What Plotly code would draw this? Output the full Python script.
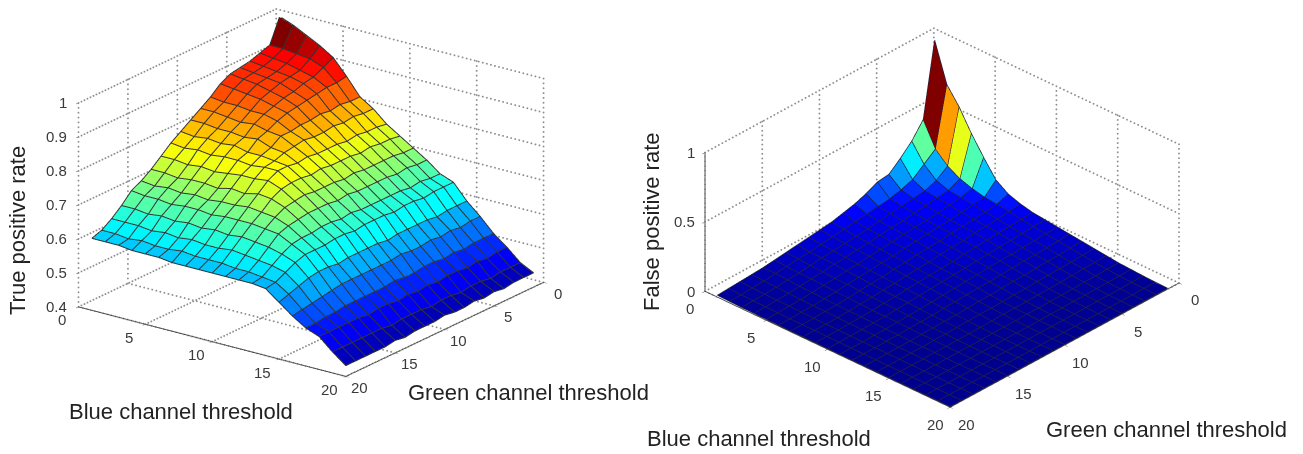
import plotly.graph_objects as go

blue_left = list(range(1, 21))
green_left = list(range(1, 21))
# rows: blue 1..20, columns: green 1..20
tpr = [
 [1.0,.93,.92,.91,.905,.90,.885,.86,.84,.82,.80,.78,.755,.73,.71,.695,.665,.64,.62,.61],
 [.985,.93,.915,.905,.90,.895,.88,.855,.84,.82,.795,.775,.755,.73,.705,.69,.665,.64,.62,.61],
 [.965,.925,.91,.90,.895,.89,.875,.855,.835,.815,.80,.78,.75,.725,.71,.69,.66,.64,.615,.61],
 [.945,.92,.90,.895,.89,.88,.87,.85,.83,.815,.795,.775,.755,.73,.705,.685,.665,.635,.62,.605],
 [.92,.905,.89,.885,.875,.87,.86,.85,.835,.81,.80,.78,.75,.73,.71,.69,.66,.64,.615,.605],
 [.875,.87,.87,.865,.86,.855,.85,.84,.825,.815,.79,.78,.755,.725,.705,.69,.665,.635,.615,.605],
 [.825,.825,.83,.825,.83,.825,.825,.82,.82,.80,.79,.775,.76,.735,.71,.685,.66,.64,.62,.60],
 [.80,.80,.805,.80,.805,.80,.80,.805,.80,.795,.785,.78,.76,.73,.71,.69,.665,.635,.615,.60],
 [.765,.77,.77,.775,.77,.775,.775,.775,.78,.775,.78,.78,.765,.74,.715,.69,.66,.635,.615,.60],
 [.74,.745,.745,.75,.745,.75,.75,.75,.755,.75,.755,.755,.75,.735,.71,.69,.665,.64,.615,.60],
 [.715,.715,.72,.72,.72,.72,.725,.72,.725,.725,.725,.73,.725,.72,.705,.685,.66,.635,.61,.60],
 [.69,.69,.695,.69,.695,.695,.695,.695,.70,.695,.70,.70,.70,.695,.69,.68,.655,.63,.61,.60],
 [.66,.66,.665,.66,.665,.665,.665,.665,.665,.67,.665,.67,.67,.665,.665,.66,.645,.625,.605,.60],
 [.645,.645,.645,.64,.645,.645,.64,.645,.645,.645,.64,.645,.645,.64,.64,.64,.63,.615,.60,.595],
 [.60,.60,.60,.595,.60,.60,.60,.60,.595,.60,.60,.60,.60,.595,.60,.60,.595,.585,.575,.565],
 [.565,.565,.56,.565,.56,.565,.56,.56,.565,.56,.56,.56,.56,.56,.56,.555,.55,.545,.54,.535],
 [.525,.525,.525,.52,.525,.52,.525,.525,.52,.52,.525,.52,.52,.52,.52,.52,.515,.515,.51,.51],
 [.495,.495,.49,.495,.49,.495,.495,.49,.495,.49,.495,.49,.495,.495,.49,.495,.495,.495,.495,.495],
 [.46,.46,.46,.455,.46,.46,.455,.46,.46,.455,.46,.46,.46,.455,.46,.46,.46,.46,.46,.46],
 [.44,.44,.44,.435,.44,.435,.44,.435,.435,.44,.435,.435,.435,.43,.435,.43,.43,.43,.43,.43],
]
fpr = [
 [1.0,.47,.36,.28,.21,.20,.16,.13,.11,.09,.08,.07,.06,.05,.04,.03,.025,.02,.015,.01],
 [.72,.30,.235,.17,.14,.12,.11,.10,.09,.08,.07,.06,.05,.045,.035,.03,.02,.015,.01,.008],
 [.60,.22,.16,.13,.12,.11,.10,.09,.08,.07,.065,.055,.05,.04,.03,.025,.018,.012,.01,.006],
 [.45,.17,.13,.12,.11,.10,.09,.085,.075,.065,.06,.05,.045,.035,.03,.02,.015,.01,.008,.005],
 [.32,.14,.12,.11,.10,.09,.085,.08,.07,.06,.055,.045,.04,.03,.025,.018,.012,.01,.006,.004],
 [.20,.12,.11,.10,.09,.085,.08,.07,.065,.055,.05,.04,.035,.028,.02,.015,.01,.008,.005,.004],
 [.14,.11,.10,.09,.085,.08,.07,.065,.06,.05,.045,.035,.03,.025,.018,.012,.01,.006,.005,.003],
 [.11,.10,.09,.085,.08,.07,.065,.06,.05,.045,.04,.03,.025,.02,.015,.01,.008,.005,.004,.003],
 [.09,.085,.08,.075,.07,.065,.06,.05,.045,.04,.035,.03,.022,.018,.012,.01,.006,.005,.003,.003],
 [.08,.075,.07,.065,.06,.055,.05,.045,.04,.035,.03,.025,.02,.015,.01,.008,.005,.004,.003,.002],
 [.07,.065,.06,.055,.05,.05,.045,.04,.035,.03,.025,.02,.015,.012,.01,.006,.005,.003,.003,.002],
 [.06,.055,.05,.045,.045,.04,.035,.03,.03,.025,.02,.018,.012,.01,.008,.005,.004,.003,.002,.002],
 [.05,.045,.04,.04,.035,.03,.03,.025,.02,.02,.015,.012,.01,.008,.006,.004,.003,.003,.002,.002],
 [.04,.035,.03,.03,.025,.025,.02,.018,.015,.012,.012,.01,.008,.006,.005,.003,.003,.002,.002,.002],
 [.03,.025,.025,.02,.018,.015,.015,.012,.01,.01,.008,.006,.005,.004,.003,.003,.002,.002,.002,.002],
 [.02,.018,.015,.015,.012,.01,.01,.008,.008,.006,.005,.004,.004,.003,.003,.002,.002,.002,.002,.002],
 [.015,.012,.01,.01,.008,.008,.006,.005,.005,.004,.004,.003,.003,.002,.002,.002,.002,.002,.002,.002],
 [.01,.008,.006,.006,.005,.005,.004,.004,.003,.003,.003,.002,.002,.002,.002,.002,.002,.002,.002,.002],
 [.006,.005,.004,.004,.003,.003,.003,.002,.002,.002,.002,.002,.002,.002,.002,.002,.002,.002,.002,.002],
 [.004,.003,.003,.002,.002,.002,.002,.002,.002,.002,.002,.002,.002,.002,.002,.002,.002,.002,.002,.002],
]
xy_ticks = [0, 5, 10, 15, 20]
z_ticks_left = [0.4, 0.5, 0.6, 0.7, 0.8, 0.9, 1.0]
z_ticks_right = [0, 0.5, 1]
z_labels_left = ["0.4", "0.5", "0.6", "0.7", "0.8", "0.9", "1"]
z_labels_right = ["0", "0.5", "1"]

JET = [[0, "rgb(0,0,143)"], [.125, "rgb(0,0,255)"], [.375, "rgb(0,255,255)"],
       [.625, "rgb(255,255,0)"], [.875, "rgb(255,0,0)"], [1, "rgb(128,0,0)"]]
TEXT = "#3a3a3a"
FONT = "Liberation Sans"

def surface(Z, scene, cmin, cmax):
    n, m = len(Z), len(Z[0])
    xs, ys, zs, I, J, K, cell = [], [], [], [], [], [], []
    for a in range(n):
        for b in range(m):
            xs.append(blue_left[a]); ys.append(green_left[b]); zs.append(Z[a][b])
    for a in range(n - 1):
        for b in range(m - 1):
            p, q, r, s = a*m+b, a*m+b+1, (a+1)*m+b+1, (a+1)*m+b
            I += [p, p]; J += [q, r]; K += [r, s]
            cell += [Z[a][b], Z[a][b]]
    return go.Mesh3d(x=xs, y=ys, z=zs, i=I, j=J, k=K, intensity=cell, intensitymode="cell",
                     colorscale=JET, cmin=cmin, cmax=cmax, showscale=False, flatshading=True,
                     lighting=dict(ambient=1, diffuse=0, specular=0, fresnel=0, roughness=1),
                     hoverinfo="skip", scene=scene)

def mesh_lines(Z, scene, lift, color, width):
    n, m = len(Z), len(Z[0])
    x, y, z = [], [], []
    for a in range(n):
        for b in range(m):
            x.append(blue_left[a]); y.append(green_left[b]); z.append(Z[a][b] + lift)
        x.append(None); y.append(None); z.append(None)
    for b in range(m):
        for a in range(n):
            x.append(blue_left[a]); y.append(green_left[b]); z.append(Z[a][b] + lift)
        x.append(None); y.append(None); z.append(None)
    return go.Scatter3d(x=x, y=y, z=z, mode="lines", line=dict(color=color, width=width),
                        hoverinfo="skip", showlegend=False, scene=scene)

def walls(zt, scene, zdots, hide_under_surface):
    x, y, z = [], [], []
    lo, hi = zt[0], zt[-1]
    def seg(p, q, n):
        for i in range(n + 1):
            f = i / n
            px = p[0] + (q[0] - p[0]) * f
            py = p[1] + (q[1] - p[1]) * f
            pz = p[2] + (q[2] - p[2]) * f
            if hide_under_surface and pz == lo and px >= 1 and py >= 1:
                continue
            x.append(px); y.append(py); z.append(pz)
    for v in zt:
        seg((0, 0, v), (20, 0, v), 66); seg((0, 0, v), (0, 20, v), 66)
    for t in xy_ticks:
        seg((t, 0, lo), (t, 0, hi), zdots); seg((0, t, lo), (0, t, hi), zdots)
        seg((t, 0, lo), (t, 20, lo), 66); seg((0, t, lo), (20, t, lo), 66)
    return go.Scatter3d(x=x, y=y, z=z, mode="markers",
                        marker=dict(color="#8f8f8f", size=1.1, line=dict(width=0)),
                        hoverinfo="skip", showlegend=False, scene=scene)

def axis(vals, rng, reverse=False, line=True):
    return dict(range=rng[::-1] if reverse else rng, tickmode="array", tickvals=vals,
                showticklabels=False,
                showgrid=False, zeroline=False, showbackground=False, showspikes=False,
                showline=line, linecolor="#444444", linewidth=2, ticks="outside", ticklen=4,
                tickcolor="#444444", title=dict(text=""))

def labels(zvals, ztext, zlo, bshift, gshift, zshift):
    out = []
    base = dict(showarrow=False, font=dict(family=FONT, size=15, color=TEXT))
    for t in xy_ticks:
        out.append(dict(x=t, y=20, z=zlo, text=str(t), xshift=bshift[0], yshift=-bshift[1], **base))
        out.append(dict(x=20, y=t, z=zlo, text=str(t), xshift=gshift[0], yshift=-gshift[1], **base))
    for v, s in zip(zvals, ztext):
        out.append(dict(x=0, y=20, z=v, text=s, xanchor="right", xshift=zshift, **base))
    return out

fig = go.Figure()
fig.add_trace(walls(z_ticks_left, "scene", 42, False))
fig.add_trace(surface(tpr, "scene", 0.43, 1.0))
fig.add_trace(mesh_lines(tpr, "scene", 0.002, "#333333", 2))
fig.add_trace(walls(z_ticks_right, "scene2", 30, True))
fig.add_trace(surface(fpr, "scene2", 0.0, 1.0))
fig.add_trace(mesh_lines(fpr, "scene2", 0.003, "#222244", 1.5))

def scene(dom, eye, asp, zvals, zrange, cz, zline, notes):
    return dict(domain=dom, camera=dict(eye=dict(x=eye["x"], y=eye["y"], z=eye["z"]+cz),
                                        up=dict(x=0, y=0, z=1), center=dict(x=0, y=0, z=cz),
                                        projection=dict(type="orthographic")),
                aspectmode="manual", aspectratio=asp,
                xaxis=axis(xy_ticks, [0, 20]),
                yaxis=axis(xy_ticks, [0, 20], reverse=True),
                zaxis=axis(zvals, zrange, line=zline),
                annotations=notes)

L = 1.6
R = 1.6
SL = 1.75
SR = 1.62
fig.update_layout(
    width=1303, height=454, margin=dict(l=0, r=0, t=0, b=0), showlegend=False,
    paper_bgcolor="white",
    scene=scene(dict(x=[3/1303, 603/1303], y=[74/454, 1]),
                dict(x=.557*L, y=-.753*L, z=.352*L), dict(x=SL, y=SL, z=.655*SL),
                z_ticks_left, [.4, 1], -0.03, False,
                labels(z_ticks_left, z_labels_left, .4, (-16, 13), (14, 11), -9)),
    scene2=scene(dict(x=[634/1303, 1234/1303], y=[31/454, 1-9/454]),
                 dict(x=.588*R, y=-.630*R, z=.507*R), dict(x=SR, y=SR, z=.48*SR),
                 z_ticks_right, [0, 1], -0.035, True,
                 labels(z_ticks_right, z_labels_right, 0, (-15, 17), (16, 17), -8)),
)

def note(text, x, y, angle=0):
    # the page body adds an 8 px margin to the figure
    fig.add_annotation(text=text, x=(x-8)/1303, y=1-(y-8)/454, xref="paper", yref="paper", showarrow=False,
                       textangle=angle, xanchor="center", yanchor="middle",
                       font=dict(family=FONT, size=22, color="#222222"))

note("Blue channel threshold", 181, 411)
note("Green channel threshold", 528, 392)
note("True positive rate", 18, 231, -90)
note("False positive rate", 651, 222, -90)
note("Blue channel threshold", 759, 438)
note("Green channel threshold", 1166, 429)

fig.write_html("out.html", config=dict(displayModeBar=False))
